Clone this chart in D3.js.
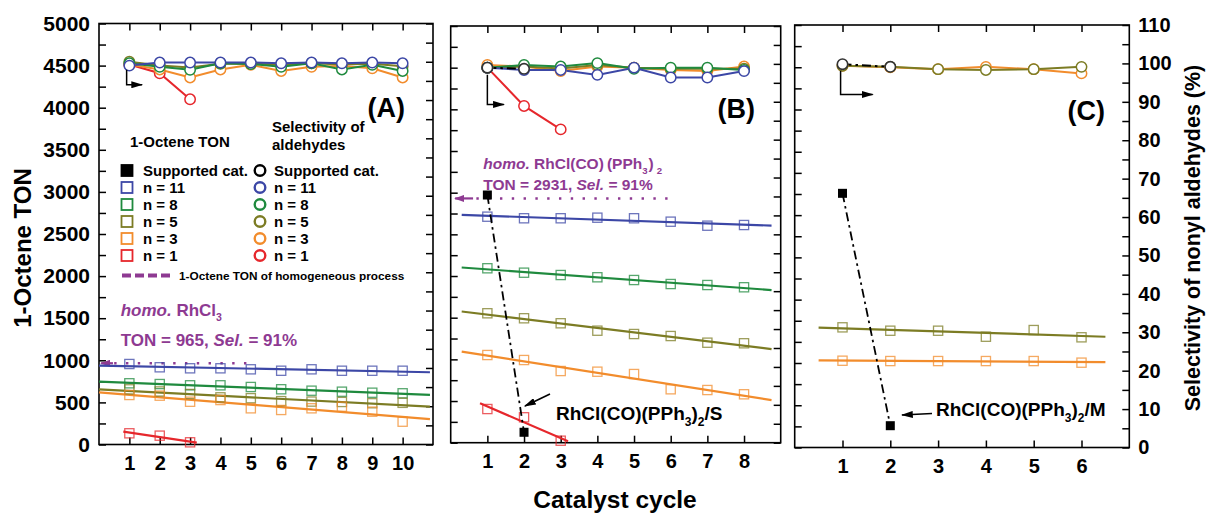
<!DOCTYPE html>
<html>
<head>
<meta charset="utf-8">
<script src="https://cdn.jsdelivr.net/npm/d3@7"></script>
<style>
body{margin:0;background:#fff;}
svg text{font-family:"Liberation Sans",Arial,sans-serif;font-weight:bold;}
</style>
</head>
<body>
<svg id="chart" width="1207" height="513"></svg>
<script>
// catalyst cycles
const cyclesA = [1,2,3,4,5,6,7,8,9,10];
const cyclesB = [1,2,3,4,5,6,7,8];
const cyclesC = [1,2,3,4,5,6];
const cyclesShort = [1,2,3];
const cyclesSup = [1,2];

// panel A : 1-octene TON
const tonA11 = [956,917,905,905,893,876,893,876,876,876];
const tonA8  = [727,718,703,703,683,656,639,627,615,608];
const tonA5  = [655,630,600,560,550,515,510,505,490,495];
const tonA3  = [588,580,508,528,430,410,430,449,390,271];
const tonA1  = [133,105,26];
// panel A : selectivity (%)
const selA11 = [99.0,99.8,99.8,99.8,99.8,99.6,99.8,99.6,99.8,99.6];
const selA8  = [99.6,98.7,97.9,99.6,99.4,98.7,99.6,98.0,99.2,97.6];
const selA5  = [100.0,99.0,98.5,99.5,99.5,99.2,99.6,99.3,99.5,98.8];
const selA3  = [99.3,98.0,95.9,98.0,99.2,97.6,98.7,98.9,98.3,95.9];
const selA1  = [99.3,97.0,90.2];

// panel B
const tonB11 = [2712,2693,2693,2700,2693,2652,2604,2612];
const tonB8  = [2093,2040,2012,1985,1952,1904,1892,1865];
const tonB5  = [1553,1493,1433,1344,1304,1280,1200,1193];
const tonB3  = [1052,992,860,852,824,641,632,581];
const tonB1  = [404,305,24];
const tonBsup = [2972,125];
const selB11 = [99.0,98.4,98.4,97.1,99.0,96.4,96.4,98.1];
const selB8  = [99.0,99.7,99.3,100.2,98.7,99.0,99.0,98.4];
const selB5  = [99.0,99.3,98.8,99.7,99.0,98.7,98.7,98.7];
const selB3  = [99.7,99.3,98.1,99.3,99.0,98.4,98.1,99.3];
const selB1  = [99.0,88.9,82.7];
const selBsup = [99.0,98.7];

// panel C
const tonC5 = [1422,1382,1382,1311,1390,1304];
const tonC3 = [1027,1023,1023,1023,1023,1004];
const tonCsup = [3008,258];
const selC5 = [99.4,99.1,98.5,98.3,98.5,99.1];
const selC3 = [99.4,99.0,98.5,99.1,98.5,97.4];
const selCsup = [99.8,99.1];

// homogeneous process TON
const homoTON = [965,2931];

// ticks
const tonMajor = d3.range(0,5001,500);
const tonMinor = d3.range(0,5001,250);
const selMajor = d3.range(0,111,10);
const selMinor = d3.range(0,111,5);

const legendLabels = ['Supported cat.','n = 11','n = 8','n = 5','n = 3','n = 1'];
const legendKeys = ['sup','n11','n8','n5','n3','n1'];

const COLORS = {n11:'#3c47a6', n8:'#1f8a3e', n5:'#7c7c24', n3:'#f28c2c', n1:'#e6272c', sup:'#000', homo:'#8e3a92'};

const svg = d3.select('#chart');
const defs = svg.append('defs');
function addMarker(id, color, w, h){
  defs.append('marker').attr('id',id)
    .attr('viewBox','0 0 10 10').attr('refX',9).attr('refY',5)
    .attr('markerUnits','userSpaceOnUse')
    .attr('markerWidth',w).attr('markerHeight',h)
    .attr('preserveAspectRatio','none')
    .attr('orient','auto')
    .append('path').attr('d','M0,0 L10,5 L0,10 z').attr('fill',color);
}
addMarker('arrBlack','#000',12,7);
addMarker('arrPurple',COLORS.homo,10,7);

// least squares line through the points
function fit(xs, ys){
  const mx = d3.mean(xs), my = d3.mean(ys);
  let sxy = 0, sxx = 0;
  xs.forEach((v,i) => { sxy += (v-mx)*(ys[i]-my); sxx += (v-mx)*(v-mx); });
  const b = sxy/sxx;
  return v => my + b*(v-mx);
}

const panels = [
  {label:'(A)', left:99, right:433, top:23.5, bottom:444.5, xmax:11, cycles:cyclesA,
   showLeft:true, showRight:false, fitSpan:[0,10.9], labelPos:[405,117],
   bent:[0.91,97.9,94.0,1.42],
   homo:{ton:homoTON[0], arrow:[0.46,0.07], dots:[0.5,4.9]},
   series:[
     {key:'n11', xs:cyclesA, ton:tonA11, sel:selA11},
     {key:'n8', xs:cyclesA, ton:tonA8, sel:selA8},
     {key:'n5', xs:cyclesA, ton:tonA5, sel:selA5},
     {key:'n3', xs:cyclesA, ton:tonA3, sel:selA3},
     {key:'n1', xs:cyclesShort, ton:tonA1, sel:selA1, span:[0.8,3.22]}
   ]},
  {label:'(B)', left:450.7, right:780.7, top:26, bottom:442.7, xmax:9, cycles:cyclesB,
   showLeft:false, showRight:false, fitSpan:[0.3,8.75], labelPos:[755,118],
   bent:[1.0,97.1,89.3,1.45],
   homo:{ton:homoTON[1], arrow:[0.61,0.12], dots:[0.7,5.95]},
   sup:{ton:tonBsup, sel:selBsup},
   series:[
     {key:'n11', xs:cyclesB, ton:tonB11, sel:selB11},
     {key:'n8', xs:cyclesB, ton:tonB8, sel:selB8},
     {key:'n5', xs:cyclesB, ton:tonB5, sel:selB5},
     {key:'n3', xs:cyclesB, ton:tonB3, sel:selB3},
     {key:'n1', xs:cyclesShort, ton:tonB1, sel:selB1, span:[0.8,3.2]}
   ]},
  {label:'(C)', left:794.7, right:1129.3, top:25, bottom:447.5, xmax:7, cycles:cyclesC,
   showLeft:false, showRight:true, fitSpan:[0.5,6.5], labelPos:[1105,120],
   bent:[0.96,98.1,91.9,1.63],
   sup:{ton:tonCsup, sel:selCsup},
   series:[
     {key:'n5', xs:cyclesC, ton:tonC5, sel:selC5},
     {key:'n3', xs:cyclesC, ton:tonC3, sel:selC3}
   ]}
];

function styleAxis(g, size){
  g.select('.domain').remove();
  g.attr('font-size', size).attr('font-family', null);
  g.selectAll('line').attr('stroke-width',1.5);
}

panels.forEach(p => {
  const x = d3.scaleLinear().domain([0,p.xmax]).range([p.left,p.right]);
  const yT = d3.scaleLinear().domain([0,5000]).range([p.bottom,p.top]);
  const yS = d3.scaleLinear().domain([0,110]).range([p.bottom,p.top]);
  const g = svg.append('g');

  // axes (ticks inward)
  g.append('g').attr('transform','translate(0,'+p.bottom+')')
    .call(d3.axisBottom(x).tickValues(p.cycles).tickSize(-7).tickPadding(11).tickFormat(d3.format('d')))
    .call(a => styleAxis(a,20));
  g.append('g').attr('transform','translate(0,'+p.top+')')
    .call(d3.axisTop(x).tickValues(p.cycles).tickSize(-7).tickFormat(''))
    .call(a => styleAxis(a,20));
  g.append('g').attr('transform','translate('+p.left+',0)')
    .call(d3.axisLeft(yT).tickValues(tonMinor).tickSize(-7).tickPadding(9)
      .tickFormat(d => (p.showLeft && tonMajor.includes(d)) ? d : ''))
    .call(a => styleAxis(a,21));
  g.append('g').attr('transform','translate('+p.right+',0)')
    .call(d3.axisRight(yS).tickValues(selMinor).tickSize(-7).tickPadding(9)
      .tickFormat(d => (p.showRight && selMajor.includes(d)) ? d : ''))
    .call(a => styleAxis(a,20));

  // frame
  g.append('rect').attr('x',p.left).attr('y',p.top)
    .attr('width',p.right-p.left).attr('height',p.bottom-p.top)
    .attr('fill','none').attr('stroke','#000').attr('stroke-width',1.6);

  // homogeneous process reference
  if(p.homo){
    const yy = yT(p.homo.ton);
    g.append('line').attr('x1',x(p.homo.arrow[0])).attr('x2',x(p.homo.arrow[1]))
      .attr('y1',yy).attr('y2',yy).attr('stroke',COLORS.homo).attr('stroke-width',2.2)
      .attr('marker-end','url(#arrPurple)');
    g.append('line').attr('x1',x(p.homo.dots[0])).attr('x2',x(p.homo.dots[1]))
      .attr('y1',yy).attr('y2',yy).attr('stroke',COLORS.homo).attr('stroke-width',2.4)
      .attr('stroke-dasharray','2.4,9.4');
  }

  // TON fit lines and squares
  p.series.forEach(s => {
    const f = fit(s.xs, s.ton);
    const span = s.span || p.fitSpan;
    g.append('line')
      .attr('x1',x(span[0])).attr('y1',yT(Math.max(0,f(span[0]))))
      .attr('x2',x(span[1])).attr('y2',yT(Math.max(0,f(span[1]))))
      .attr('stroke',COLORS[s.key]).attr('stroke-width',2.2);
  });
  p.series.forEach(s => {
    g.selectAll(null).data(s.xs.map((c,i) => [c,s.ton[i]])).enter()
      .append('rect')
      .attr('x',d => x(d[0])-4.6).attr('y',d => yT(d[1])-4.6)
      .attr('width',9.2).attr('height',9.2)
      .attr('fill','none').attr('stroke',COLORS[s.key]).attr('stroke-width',1.3)
      .attr('opacity',0.75);
  });

  // supported catalyst TON
  if(p.sup){
    g.append('path').datum(cyclesSup.map((c,i) => [c,p.sup.ton[i]]))
      .attr('d', d3.line().x(d => x(d[0])).y(d => yT(d[1])))
      .attr('fill','none').attr('stroke','#000').attr('stroke-width',1.8)
      .attr('stroke-dasharray','9,4,2.5,4');
    g.selectAll(null).data(cyclesSup.map((c,i) => [c,p.sup.ton[i]])).enter()
      .append('rect')
      .attr('x',d => x(d[0])-4.5).attr('y',d => yT(d[1])-4.5)
      .attr('width',9).attr('height',9).attr('fill','#000');
  }

  // selectivity lines and circles
  const sLine = d3.line().x(d => x(d[0])).y(d => yS(d[1]));
  const rev = p.series.slice().reverse();
  rev.forEach(s => {
    g.append('path').datum(s.xs.map((c,i) => [c,s.sel[i]]))
      .attr('d', sLine).attr('fill','none')
      .attr('stroke',COLORS[s.key]).attr('stroke-width',2);
  });
  if(p.sup){
    g.append('path').datum(cyclesSup.map((c,i) => [c,p.sup.sel[i]]))
      .attr('d', sLine).attr('fill','none').attr('stroke','#000')
      .attr('stroke-width',2).attr('stroke-dasharray','9,4,2.5,4');
  }
  rev.forEach(s => {
    g.selectAll(null).data(s.xs.map((c,i) => [c,s.sel[i]])).enter()
      .append('circle')
      .attr('cx',d => x(d[0])).attr('cy',d => yS(d[1])).attr('r',5.2)
      .attr('fill','#fff').attr('stroke',COLORS[s.key]).attr('stroke-width',1.5);
  });
  if(p.sup){
    g.selectAll(null).data(cyclesSup.map((c,i) => [c,p.sup.sel[i]])).enter()
      .append('circle')
      .attr('cx',d => x(d[0])).attr('cy',d => yS(d[1])).attr('r',5.2)
      .attr('fill','#fff').attr('stroke','#333').attr('stroke-width',1.6);
  }

  // bent arrow: circles belong to right axis
  const b = p.bent;
  g.append('path')
    .attr('d','M'+x(b[0])+','+yS(b[1])+' V'+yS(b[2])+' H'+x(b[3]))
    .attr('fill','none').attr('stroke','#000').attr('stroke-width',1.5)
    .attr('marker-end','url(#arrBlack)');

  // panel label
  g.append('text').attr('x',p.labelPos[0]).attr('y',p.labelPos[1])
    .attr('text-anchor','end').attr('font-size',27).text(p.label);
});

// legend in panel A
const lg = svg.append('g');
lg.append('text').attr('x',130).attr('y',147).attr('font-size',15).text('1-Octene TON');
lg.append('text').attr('x',272).attr('y',132).attr('font-size',15).text('Selectivity of');
lg.append('text').attr('x',272).attr('y',150).attr('font-size',15).text('aldehydes');
legendLabels.forEach((lab,i) => {
  const yy = 170.5 + i*17;
  const col = COLORS[legendKeys[i]];
  lg.append('rect').attr('x',121.5).attr('y',yy-5.5).attr('width',11).attr('height',11)
    .attr('fill', legendKeys[i]==='sup' ? '#000' : 'none')
    .attr('stroke',col).attr('stroke-width',1.8);
  lg.append('text').attr('x',143).attr('y',yy+5.3).attr('font-size',15).text(lab);
  lg.append('circle').attr('cx',260).attr('cy',yy).attr('r',5.3)
    .attr('fill','none').attr('stroke',col).attr('stroke-width',2.4);
  lg.append('text').attr('x',274).attr('y',yy+5.3).attr('font-size',15).text(lab);
});
lg.append('line').attr('x1',122).attr('x2',174).attr('y1',275.5).attr('y2',275.5)
  .attr('stroke',COLORS.homo).attr('stroke-width',4).attr('stroke-dasharray','9,4');
lg.append('text').attr('x',179).attr('y',279.8).attr('font-size',11.8)
  .text('1-Octene TON of homogeneous process');

// homogeneous catalyst notes
function homoNote(x0, y0, size, parts){
  const t = svg.append('text').attr('x',x0).attr('y',y0).attr('font-size',size).attr('fill',COLORS.homo);
  parts.forEach(pt => {
    const ts = t.append('tspan').text(pt.t);
    if(pt.i) ts.attr('font-style','italic');
    if(pt.sub){ ts.attr('font-size',size*0.62).attr('dy',pt.sub); }
    if(pt.up){ ts.attr('dy',pt.up); }
    if(pt.dx){ ts.attr('dx',pt.dx); }
  });
}
homoNote(120.7, 316, 17, [{t:'homo.',i:true},{t:' RhCl'},{t:'3',sub:5}]);
homoNote(120.7, 345.5, 17, [{t:'TON = 965, '},{t:'Sel.',i:true},{t:' = 91%'}]);
homoNote(483.3, 169, 15.5, [{t:'homo.',i:true},{t:' RhCl(CO)\u2009(PPh'},{t:'3',sub:5},{t:')',up:-5,dx:1},{t:'2',sub:5,dx:3}]);
homoNote(483.3, 190, 15.5, [{t:'TON = 2931, '},{t:'Sel.',i:true},{t:' = 91%'}]);

// supported catalyst annotations
function catNote(x0, y0, tail, head, suffix){
  svg.append('line').attr('x1',tail[0]).attr('y1',tail[1]).attr('x2',head[0]).attr('y2',head[1])
    .attr('stroke','#000').attr('stroke-width',1.6).attr('marker-end','url(#arrBlack)');
  const t = svg.append('text').attr('x',x0).attr('y',y0).attr('font-size',19);
  t.append('tspan').text('RhCl(CO)(PPh');
  t.append('tspan').text('3').attr('font-size',12).attr('dy',6);
  t.append('tspan').text(')').attr('dy',-6);
  t.append('tspan').text('2').attr('font-size',12).attr('dy',6);
  t.append('tspan').text('/' + suffix).attr('dy',-6);
}
catNote(556, 420, [550,394], [525,406], 'S');
catNote(936, 416, [932,413.5], [902,415], 'M');

// axis titles
svg.append('text').attr('transform','translate(31,248) rotate(-90)')
  .attr('text-anchor','middle').attr('font-size',24).text('1-Octene TON');
svg.append('text').attr('transform','translate(1200,238) rotate(-90)')
  .attr('text-anchor','middle').attr('font-size',21.5).text('Selectivity of nonyl aldehydes (%)');
svg.append('text').attr('x',615).attr('y',508)
  .attr('text-anchor','middle').attr('font-size',24.5).text('Catalyst cycle');
</script>
</body>
</html>
